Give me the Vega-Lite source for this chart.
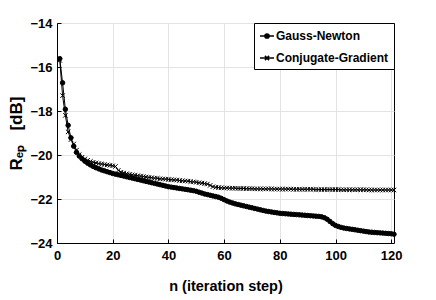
{
  "$schema": "https://vega.github.io/schema/vega-lite/v6.json",
  "autosize": "none",
  "width": 337,
  "height": 220,
  "padding": {"left": 57, "top": 23, "right": 42, "bottom": 57},
  "background": "white",
  "config": {
    "font": "Liberation Sans",
    "view": {"stroke": "black", "strokeWidth": 1},
    "axis": {
      "labelFont": "Liberation Sans",
      "titleFont": "Liberation Sans",
      "labelFontWeight": "bold",
      "titleFontWeight": "bold",
      "labelFontSize": 13,
      "titleFontSize": 14.5,
      "labelColor": "black",
      "titleColor": "black",
      "domainColor": "black",
      "tickColor": "black",
      "gridColor": "#e3e3e3",
      "gridOpacity": 1,
      "tickSize": -4
    },
    "legend": {
      "labelFont": "Liberation Sans",
      "labelFontWeight": "bold",
      "labelFontSize": 12,
      "labelColor": "black"
    }
  },
  "data": {
    "values": [
      {"n":1,"gn":-15.62,"cg":-15.7},{"n":2,"gn":-16.72,"cg":-17.3},{"n":3,"gn":-17.92,"cg":-18.2},{"n":4,"gn":-18.65,"cg":-18.95},{"n":5,"gn":-19.22,"cg":-19.3},
      {"n":6,"gn":-19.6,"cg":-19.5},{"n":7,"gn":-19.88,"cg":-19.78},{"n":8,"gn":-20.05,"cg":-19.98},{"n":9,"gn":-20.17,"cg":-20.1},{"n":10,"gn":-20.28,"cg":-20.18},
      {"n":11,"gn":-20.37,"cg":-20.24},{"n":12,"gn":-20.45,"cg":-20.29},{"n":13,"gn":-20.52,"cg":-20.33},{"n":14,"gn":-20.58,"cg":-20.36},{"n":15,"gn":-20.63,"cg":-20.39},
      {"n":16,"gn":-20.68,"cg":-20.41},{"n":17,"gn":-20.72,"cg":-20.43},{"n":18,"gn":-20.76,"cg":-20.45},{"n":19,"gn":-20.8,"cg":-20.47},{"n":20,"gn":-20.84,"cg":-20.49},
      {"n":21,"gn":-20.87,"cg":-20.52},{"n":22,"gn":-20.9,"cg":-20.7},{"n":23,"gn":-20.93,"cg":-20.78},{"n":24,"gn":-20.96,"cg":-20.82},{"n":25,"gn":-20.99,"cg":-20.85},
      {"n":26,"gn":-21.02,"cg":-20.88},{"n":27,"gn":-21.05,"cg":-20.9},{"n":28,"gn":-21.08,"cg":-20.92},{"n":29,"gn":-21.11,"cg":-20.94},{"n":30,"gn":-21.14,"cg":-20.96},
      {"n":31,"gn":-21.17,"cg":-20.98},{"n":32,"gn":-21.2,"cg":-21.0},{"n":33,"gn":-21.23,"cg":-21.02},{"n":34,"gn":-21.26,"cg":-21.03},{"n":35,"gn":-21.29,"cg":-21.05},
      {"n":36,"gn":-21.32,"cg":-21.06},{"n":37,"gn":-21.35,"cg":-21.08},{"n":38,"gn":-21.38,"cg":-21.09},{"n":39,"gn":-21.41,"cg":-21.1},{"n":40,"gn":-21.44,"cg":-21.11},
      {"n":41,"gn":-21.46,"cg":-21.12},{"n":42,"gn":-21.48,"cg":-21.13},{"n":43,"gn":-21.5,"cg":-21.14},{"n":44,"gn":-21.52,"cg":-21.16},{"n":45,"gn":-21.54,"cg":-21.17},
      {"n":46,"gn":-21.56,"cg":-21.18},{"n":47,"gn":-21.58,"cg":-21.19},{"n":48,"gn":-21.6,"cg":-21.21},{"n":49,"gn":-21.62,"cg":-21.22},{"n":50,"gn":-21.65,"cg":-21.24},
      {"n":51,"gn":-21.69,"cg":-21.26},{"n":52,"gn":-21.73,"cg":-21.28},{"n":53,"gn":-21.77,"cg":-21.3},{"n":54,"gn":-21.8,"cg":-21.32},{"n":55,"gn":-21.83,"cg":-21.38},
      {"n":56,"gn":-21.86,"cg":-21.44},{"n":57,"gn":-21.89,"cg":-21.47},{"n":58,"gn":-21.92,"cg":-21.48},{"n":59,"gn":-21.97,"cg":-21.49},{"n":60,"gn":-22.03,"cg":-21.5},
      {"n":61,"gn":-22.09,"cg":-21.5},{"n":62,"gn":-22.14,"cg":-21.51},{"n":63,"gn":-22.18,"cg":-21.51},{"n":64,"gn":-22.22,"cg":-21.51},{"n":65,"gn":-22.25,"cg":-21.52},
      {"n":66,"gn":-22.28,"cg":-21.52},{"n":67,"gn":-22.31,"cg":-21.52},{"n":68,"gn":-22.34,"cg":-21.53},{"n":69,"gn":-22.37,"cg":-21.53},{"n":70,"gn":-22.4,"cg":-21.53},
      {"n":71,"gn":-22.43,"cg":-21.54},{"n":72,"gn":-22.46,"cg":-21.54},{"n":73,"gn":-22.49,"cg":-21.54},{"n":74,"gn":-22.52,"cg":-21.54},{"n":75,"gn":-22.55,"cg":-21.54},
      {"n":76,"gn":-22.57,"cg":-21.54},{"n":77,"gn":-22.59,"cg":-21.54},{"n":78,"gn":-22.61,"cg":-21.55},{"n":79,"gn":-22.63,"cg":-21.55},{"n":80,"gn":-22.65,"cg":-21.55},
      {"n":81,"gn":-22.66,"cg":-21.55},{"n":82,"gn":-22.67,"cg":-21.55},{"n":83,"gn":-22.68,"cg":-21.55},{"n":84,"gn":-22.69,"cg":-21.55},{"n":85,"gn":-22.7,"cg":-21.56},
      {"n":86,"gn":-22.71,"cg":-21.56},{"n":87,"gn":-22.72,"cg":-21.56},{"n":88,"gn":-22.73,"cg":-21.56},{"n":89,"gn":-22.74,"cg":-21.56},{"n":90,"gn":-22.75,"cg":-21.56},
      {"n":91,"gn":-22.76,"cg":-21.56},{"n":92,"gn":-22.77,"cg":-21.56},{"n":93,"gn":-22.78,"cg":-21.57},{"n":94,"gn":-22.79,"cg":-21.57},{"n":95,"gn":-22.81,"cg":-21.57},
      {"n":96,"gn":-22.85,"cg":-21.57},{"n":97,"gn":-22.92,"cg":-21.57},{"n":98,"gn":-23.02,"cg":-21.57},{"n":99,"gn":-23.12,"cg":-21.57},{"n":100,"gn":-23.2,"cg":-21.57},
      {"n":101,"gn":-23.25,"cg":-21.57},{"n":102,"gn":-23.29,"cg":-21.58},{"n":103,"gn":-23.32,"cg":-21.58},{"n":104,"gn":-23.34,"cg":-21.58},{"n":105,"gn":-23.36,"cg":-21.58},
      {"n":106,"gn":-23.38,"cg":-21.58},{"n":107,"gn":-23.4,"cg":-21.58},{"n":108,"gn":-23.42,"cg":-21.58},{"n":109,"gn":-23.44,"cg":-21.58},{"n":110,"gn":-23.46,"cg":-21.58},
      {"n":111,"gn":-23.48,"cg":-21.58},{"n":112,"gn":-23.5,"cg":-21.59},{"n":113,"gn":-23.51,"cg":-21.59},{"n":114,"gn":-23.52,"cg":-21.59},{"n":115,"gn":-23.53,"cg":-21.59},
      {"n":116,"gn":-23.54,"cg":-21.59},{"n":117,"gn":-23.55,"cg":-21.59},{"n":118,"gn":-23.56,"cg":-21.59},{"n":119,"gn":-23.57,"cg":-21.59},{"n":120,"gn":-23.58,"cg":-21.59},
      {"n":121,"gn":-23.6,"cg":-21.59}
    ]
  },
  "transform": [
    {"fold": ["gn", "cg"], "as": ["key", "v"]},
    {"lookup": "key", "from": {"data": {"values": [{"key": "gn", "s": "Gauss-Newton"}, {"key": "cg", "s": "Conjugate-Gradient"}]}, "key": "key", "fields": ["s"]}}
  ],
  "encoding": {
    "x": {
      "field": "n", "type": "quantitative",
      "scale": {"domain": [0, 121], "nice": false, "zero": false},
      "axis": {"values": [0, 20, 40, 60, 80, 100, 120], "title": "n (iteration step)", "labelPadding": 10, "titlePadding": 17, "labelFlush": false}
    },
    "y": {
      "field": "v", "type": "quantitative",
      "scale": {"domain": [-24, -14], "nice": false, "zero": false},
      "axis": {"values": [-24, -22, -20, -18, -16, -14], "title": "Rₑₚ\u00a0\u00a0\u00a0[dB]", "titleFontSize": 17, "labelPadding": 9, "titlePadding": 4, "labelFlush": false}
    }
  },
  "layer": [
    {
      "mark": {"type": "line", "color": "black", "strokeWidth": 1},
      "encoding": {"detail": {"field": "s"}}
    },
    {
      "mark": {"type": "point", "filled": true, "fill": "black", "stroke": "black", "strokeWidth": 1, "size": 20, "opacity": 1},
      "encoding": {
        "shape": {
          "field": "s", "type": "nominal",
          "scale": {"domain": ["Gauss-Newton", "Conjugate-Gradient"], "range": ["circle", "M-1,-1L1,1M-1,1L1,-1"]},
          "legend": null
        }
      }
    },
    {
      "transform": [{"filter": "datum.n == 1"}],
      "mark": {"type": "point", "filled": true, "fill": "black", "stroke": "black", "strokeWidth": 1, "size": 14, "opacity": 0},
      "encoding": {
        "shape": {
          "field": "s", "type": "nominal",
          "scale": {"domain": ["Gauss-Newton", "Conjugate-Gradient"], "range": ["M-1,0H1M-0.3,0A0.3,0.3 0 1,0 0.3,0A0.3,0.3 0 1,0 -0.3,0Z", "M-1,0H1M-0.3,-0.3L0.3,0.3M-0.3,0.3L0.3,-0.3"]},
          "legend": {
            "title": null,
            "orient": "top-right",
            "offset": 0,
            "strokeColor": "black",
            "fillColor": "white",
            "padding": 5,
            "rowPadding": 8,
            "symbolSize": 196,
            "labelOffset": 1,
            "encode": {
              "symbols": {
                "update": {
                  "stroke": {"value": "black"},
                  "strokeWidth": {"value": 1},
                  "fill": {"value": "black"},
                  "opacity": {"value": 1},
                  "fillOpacity": {"value": 1},
                  "strokeOpacity": {"value": 1}
                }
              }
            }
          }
        }
      }
    }
  ],
  "resolve": {"scale": {"shape": "independent"}, "legend": {"shape": "independent"}}
}
